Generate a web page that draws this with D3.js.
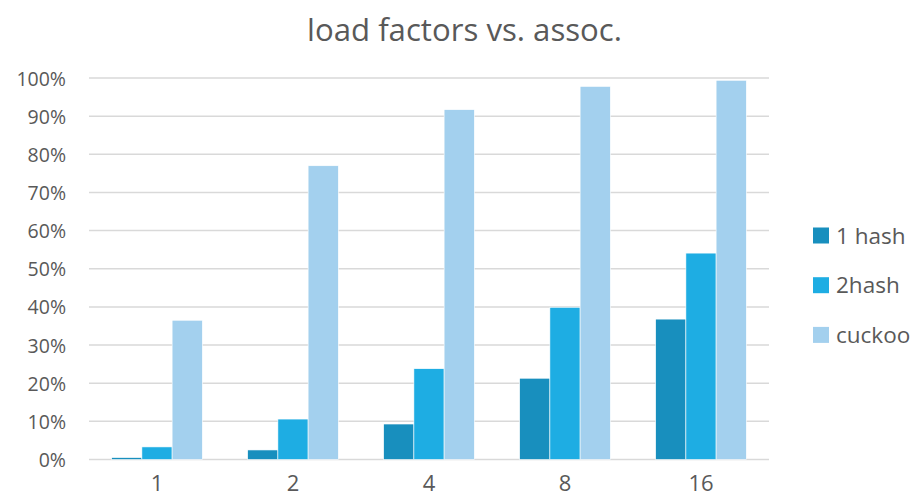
<!DOCTYPE html>
<html>
<head>
<meta charset="utf-8">
<script src="https://cdn.jsdelivr.net/npm/d3@7"></script>
<style>
  html, body { margin: 0; padding: 0; background: #fff; }
  svg { display: block; font-family: "Open Sans", "Noto Sans", sans-serif; }
</style>
</head>
<body>
<svg id="chart" width="917" height="498"></svg>
<script>
const categories = ["1", "2", "4", "8", "16"];
const seriesNames = ["1 hash", "2hash", "cuckoo"];
const hash1 = [0.005, 0.025, 0.093, 0.213, 0.368];
const hash2 = [0.033, 0.106, 0.238, 0.399, 0.541];
const cuckoo = [0.365, 0.770, 0.917, 0.978, 0.994];
const yTicks = [0, 0.1, 0.2, 0.3, 0.4, 0.5, 0.6, 0.7, 0.8, 0.9, 1.0];
const colors = ["#188FBE", "#1EADE3", "#A3D0EE"];
const title = "load factors vs. assoc.";

const seriesValues = [hash1, hash2, cuckoo];
const svg = d3.select("#chart");
const textColor = "#595959";

const plot = { left: 89, right: 769, top: 78, bottom: 459.5 };

const x0 = d3.scaleBand().domain(categories).range([plot.left, plot.right]).padding(0);
const x1 = d3.scaleBand().domain(seriesNames).range([0, x0.bandwidth()])
  .paddingInner(0).paddingOuter(0.75);
const y = d3.scaleLinear().domain([0, 1]).range([plot.bottom, plot.top]);

// gridlines
svg.append("g").selectAll("line").data(yTicks).join("line")
  .attr("x1", plot.left).attr("x2", plot.right)
  .attr("y1", d => y(d)).attr("y2", d => y(d))
  .attr("stroke", "#D9D9D9").attr("stroke-width", 1.5);

// y axis labels
const yAxis = d3.axisLeft(y).tickValues(yTicks).tickSize(0).tickPadding(0)
  .tickFormat(d => Math.round(d * 100) + "%");
const yg = svg.append("g").attr("transform", `translate(66,0)`).call(yAxis);
yg.select(".domain").remove();
yg.selectAll("text").attr("fill", textColor).style("font-size", "19.5px")
  .style("font-family", "'Open Sans', sans-serif").attr("dy", "0.36em");

// bars
const groups = svg.append("g").selectAll("g").data(categories).join("g")
  .attr("transform", d => `translate(${x0(d)},0)`);
groups.selectAll("rect").data((c, i) => seriesNames.map((s, j) => ({ s, j, v: seriesValues[j][i] })))
  .join("rect")
  .attr("x", d => x1(d.s))
  .attr("width", x1.bandwidth())
  .attr("y", d => y(d.v))
  .attr("height", d => y(0) - y(d.v))
  .attr("fill", d => colors[d.j])
  .attr("stroke", "#ffffff").attr("stroke-width", 0.6);

// x axis labels
const xAxis = d3.axisBottom(x0).tickSize(0).tickPadding(0);
const xg = svg.append("g").attr("transform", `translate(0,${plot.bottom})`).call(xAxis);
xg.select(".domain").remove();
xg.selectAll("text").attr("fill", textColor).style("font-size", "22px")
  .style("font-family", "'Open Sans', sans-serif").attr("dy", null).attr("y", 31);

// title
const t = svg.append("text").attr("x", 464.5).attr("y", 41).attr("text-anchor", "middle")
  .attr("fill", textColor).style("font-size", "27px").text(title);
const tw = t.node().getComputedTextLength();
t.style("font-size", (27 * 315 / tw) + "px");

// legend
const lg = svg.append("g").selectAll("g").data(seriesNames).join("g")
  .attr("transform", (d, i) => `translate(813,${235.5 + i * 49.7})`);
lg.append("rect").attr("x", 0).attr("y", -8).attr("width", 16).attr("height", 16)
  .attr("fill", (d, i) => colors[i]);
lg.append("text").attr("x", 23).attr("y", 0).attr("dy", "0.36em")
  .attr("fill", textColor).style("font-size", "22.5px").text(d => d);
</script>
</body>
</html>
